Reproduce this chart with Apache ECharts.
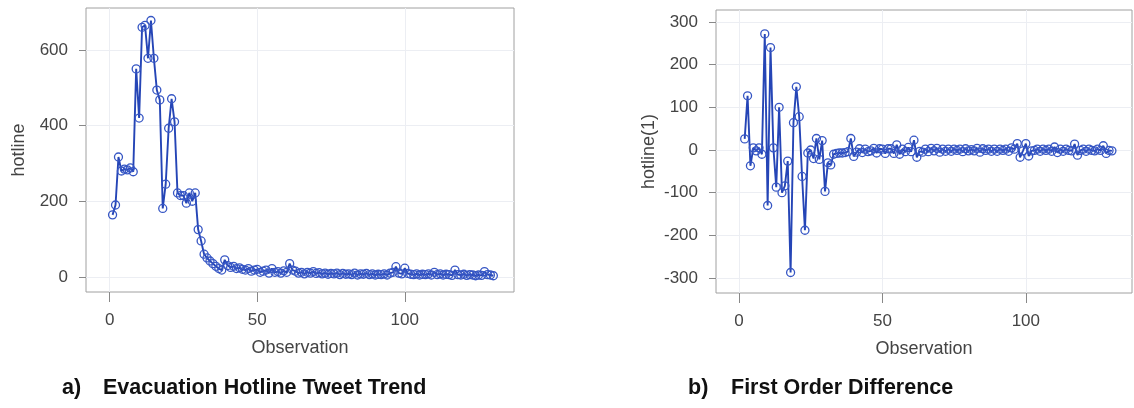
<!DOCTYPE html>
<html>
<head>
<meta charset="utf-8">
<script src="https://cdn.jsdelivr.net/npm/echarts@6/dist/echarts.min.js"></script>
<style>
  html, body { margin: 0; padding: 0; background: #fff; }
  #chart { width: 1134px; height: 408px; }
</style>
</head>
<body>
<div id="chart"></div>
<script>
// hotline tweet counts, observation 1..130
const hotline = [
  164, 190, 317, 280, 285, 283, 288, 278, 550, 420,
  660, 665, 578, 678, 578, 494, 468, 181, 245, 393,
  471, 410, 222, 215, 215, 195, 222, 200, 222, 125,
  95, 60, 50, 42, 35, 28, 22, 18, 45, 30,
  25, 28, 22, 24, 20, 18, 22, 15, 18, 20,
  12, 15, 18, 10, 22, 12, 14, 10, 16, 12,
  35, 18, 15, 10, 12, 8, 12, 10, 14, 9,
  11, 8, 10, 7, 9, 8, 10, 6, 9, 7,
  8, 6, 10, 5, 8, 7, 9, 6, 8, 5,
  7, 6, 8, 5, 10, 12, 27, 10, 8, 23,
  9, 7, 6, 8, 5, 7, 6, 8, 5, 12,
  6, 8, 5, 7, 6, 4, 18, 6, 5, 7,
  4, 6, 5, 3, 5, 4, 14, 6, 5, 3
];

// first order difference, observation 2..130
const hotlineDiff = [
  26, 127, -37, 5, -2, 5, -10, 272, -130,
  240, 5, -87, 100, -100, -84, -26, -287, 64, 148,
  78, -62, -188, -7, 0, -20, 27, -22, 22, -97,
  -30, -35, -10, -8, -7, -7, -6, -4, 27, -15,
  -5, 3, -6, 2, -4, -2, 4, -7, 3, 2,
  -8, 3, 3, -8, 12, -10, 2, -4, 6, -4,
  23, -17, -3, -5, 2, -4, 4, -2, 4, -5,
  2, -3, 2, -3, 2, -1, 2, -4, 3, -2,
  1, -2, 4, -5, 3, -1, 2, -3, 2, -3,
  2, -1, 2, -3, 5, 2, 15, -17, -2, 15,
  -14, -2, -1, 2, -3, 2, -1, 2, -3, 7,
  -6, 2, -3, 2, -1, -2, 14, -12, -1, 2,
  -3, 2, -1, -2, 2, -1, 10, -8, -1, -2
];

const xTicks = [0, 50, 100];
const leftYTicks = [0, 200, 400, 600];
const rightYTicks = [-300, -200, -100, 0, 100, 200, 300];

const FONT = 'Arial, "Liberation Sans", sans-serif';
const LINE = '#2545b6';
const MARK = '#3656c4';
const BORDER = '#a0a0a0';
const GRIDLINE = '#eceef3';

function xAxisOf(gridIndex) {
  return {
    type: 'value', gridIndex: gridIndex,
    min: -8, max: 137, splitNumber: 3,
    name: 'Observation', nameLocation: 'middle', nameGap: 47,
    nameTextStyle: { fontFamily: FONT, fontSize: 18, color: '#444' },
    axisLine: { show: false, onZero: false },
    axisTick: { show: true, length: 10, customValues: xTicks, lineStyle: { color: '#888' } },
    axisLabel: { customValues: xTicks, margin: 20, fontFamily: FONT, fontSize: 17, color: '#444' },
    splitLine: { show: true, lineStyle: { color: GRIDLINE } }
  };
}

function yAxisOf(gridIndex, name, min, max, splitNumber, ticks) {
  return {
    type: 'value', gridIndex: gridIndex,
    min: min, max: max, splitNumber: splitNumber,
    name: name, nameLocation: 'middle', nameGap: 58,
    nameTextStyle: { fontFamily: FONT, fontSize: 18, color: '#444' },
    axisLine: { show: false, onZero: false },
    axisTick: { show: true, length: 7, customValues: ticks, lineStyle: { color: '#888' } },
    axisLabel: { customValues: ticks, margin: 18, fontFamily: FONT, fontSize: 17, color: '#444' },
    splitLine: { show: true, lineStyle: { color: GRIDLINE } }
  };
}

function lineSeries(data, axisIndex) {
  return {
    type: 'line', xAxisIndex: axisIndex, yAxisIndex: axisIndex,
    data: data,
    symbol: 'circle', symbolSize: 8, showSymbol: true,
    lineStyle: { color: LINE, width: 1.9 },
    itemStyle: { color: 'rgba(255,255,255,0)', borderColor: MARK, borderWidth: 1.3 },
    emphasis: { disabled: true },
    animation: false
  };
}

const chart = echarts.init(document.getElementById('chart'));

chart.setOption({
  backgroundColor: '#fff',
  animation: false,
  grid: [
    { left: 86, top: 8, width: 428, height: 284, show: true, borderColor: BORDER, borderWidth: 1, backgroundColor: '#fff' },
    { left: 716, top: 10, width: 416, height: 283, show: true, borderColor: BORDER, borderWidth: 1, backgroundColor: '#fff' }
  ],
  xAxis: [xAxisOf(0), xAxisOf(1)],
  yAxis: [
    yAxisOf(0, 'hotline', -40, 711, 4, leftYTicks),
    yAxisOf(1, 'hotline(1)', -335, 328, 7, rightYTicks)
  ],
  series: [
    lineSeries(hotline.map((v, i) => [i + 1, v]), 0),
    lineSeries(hotlineDiff.map((v, i) => [i + 2, v]), 1)
  ],
  graphic: [
    { type: 'text', x: 62, y: 388, style: { text: 'a)', font: 'bold 21.5px ' + FONT, fill: '#111', verticalAlign: 'middle' } },
    { type: 'text', x: 103, y: 388, style: { text: 'Evacuation Hotline Tweet Trend', font: 'bold 21.5px ' + FONT, fill: '#111', verticalAlign: 'middle' } },
    { type: 'text', x: 688, y: 388, style: { text: 'b)', font: 'bold 21.5px ' + FONT, fill: '#111', verticalAlign: 'middle' } },
    { type: 'text', x: 731, y: 388, style: { text: 'First Order Difference', font: 'bold 21.5px ' + FONT, fill: '#111', verticalAlign: 'middle' } }
  ]
});
</script>
</body>
</html>
